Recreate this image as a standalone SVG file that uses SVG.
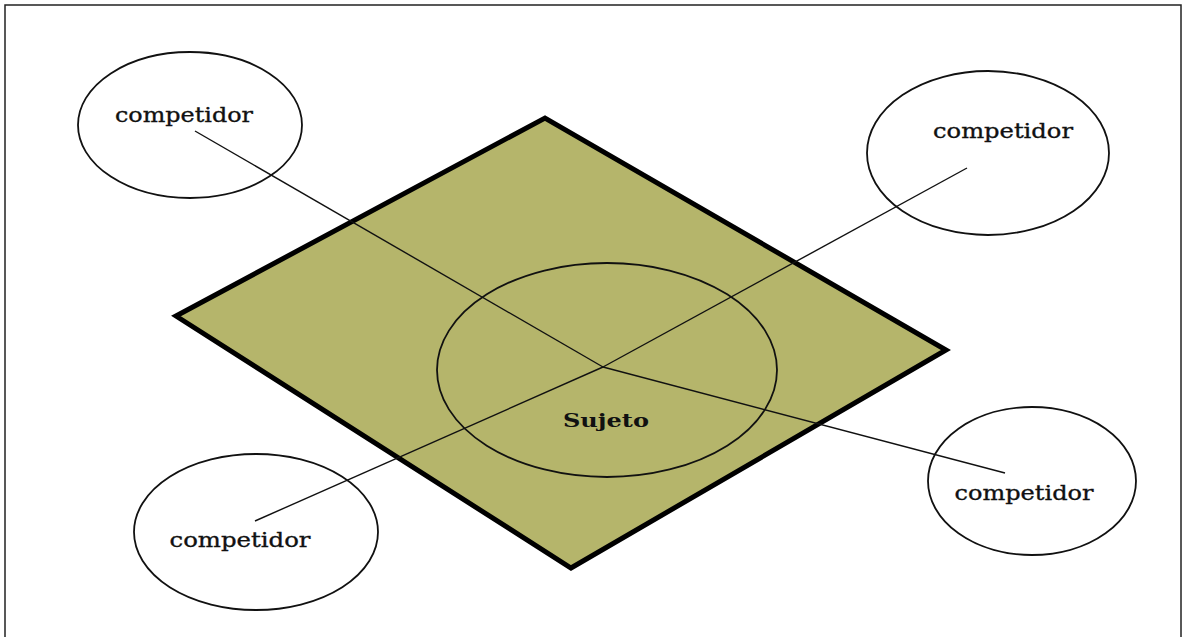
<svg xmlns="http://www.w3.org/2000/svg" width="1184" height="637" viewBox="0 0 1184 637">
  <style>
    .frame { fill: none; stroke: #222; stroke-width: 1.5; }
    .plane { fill: #b5b56b; stroke: #000; stroke-width: 5; stroke-linejoin: miter; }
    .ring { fill: none; stroke: #111; stroke-width: 1.8; }
    .link { fill: none; stroke: #111; stroke-width: 1.4; }
    .label { font-family: "DejaVu Serif", "Liberation Serif", serif; font-size: 20px; fill: #111; stroke: #111; stroke-width: 0.35; text-anchor: middle; }
    .subject { font-family: "DejaVu Serif", "Liberation Serif", serif; font-size: 19px; font-weight: bold; fill: #111; text-anchor: middle; }
  </style>

  <rect x="0" y="0" width="1184" height="637" fill="#fff"/>
  <rect class="frame" x="5" y="5" width="1176" height="640"/>

  <!-- subject plane -->
  <g id="plane">
    <polygon class="plane" points="176,316 545,118 946,350 571,568"/>
  </g>

  <!-- connectors from the subject to each competitor -->
  <g id="connectors">
    <line class="link" x1="603" y1="367" x2="195" y2="131"/>
    <line class="link" x1="603" y1="367" x2="967" y2="168"/>
    <line class="link" x1="603" y1="367" x2="255" y2="521"/>
    <line class="link" x1="603" y1="367" x2="1005" y2="473"/>
  </g>

  <g id="sujeto">
    <ellipse class="ring" cx="607" cy="370" rx="170" ry="107"/>
    <text class="subject" x="606" y="427" textLength="86" lengthAdjust="spacingAndGlyphs">Sujeto</text>
  </g>

  <g id="competidor-nw">
    <ellipse class="ring" cx="190" cy="125" rx="112" ry="73"/>
    <text class="label" x="184" y="122" textLength="138" lengthAdjust="spacingAndGlyphs">competidor</text>
  </g>

  <g id="competidor-ne">
    <ellipse class="ring" cx="988" cy="153" rx="121" ry="82"/>
    <text class="label" x="1003" y="138" textLength="140" lengthAdjust="spacingAndGlyphs">competidor</text>
  </g>

  <g id="competidor-sw">
    <ellipse class="ring" cx="256" cy="532" rx="122" ry="78"/>
    <text class="label" x="240" y="547" textLength="141" lengthAdjust="spacingAndGlyphs">competidor</text>
  </g>

  <g id="competidor-se">
    <ellipse class="ring" cx="1032" cy="481" rx="104" ry="74"/>
    <text class="label" x="1024" y="500" textLength="139" lengthAdjust="spacingAndGlyphs">competidor</text>
  </g>
</svg>
